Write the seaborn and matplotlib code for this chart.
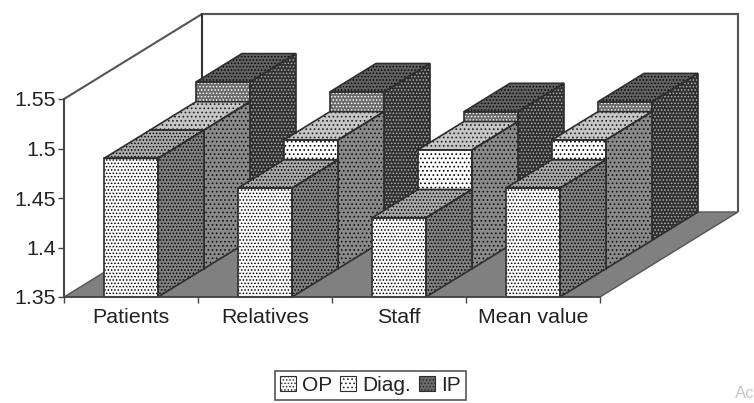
import pandas as pd
import matplotlib
matplotlib.use('Agg')
import matplotlib.pyplot as plt
from matplotlib.patches import Patch, Polygon, Rectangle
import seaborn as sns

categories = ['Patients', 'Relatives', 'Staff', 'Mean value']
op = [1.49, 1.46, 1.43, 1.46]
diag = [1.49, 1.48, 1.47, 1.48]
ip = [1.51, 1.50, 1.48, 1.49]
series_names = ['OP', 'Diag.', 'IP']
y_ticks = [1.35, 1.4, 1.45, 1.5, 1.55]
y_labels = ['1.35', '1.4', '1.45', '1.5', '1.55']

BASE = 1.35
W, H = 754, 403
# one depth slot per series, as a shift in data units (138 px right, 85 px up in total)
STEP_X = (138 / 134) / 3
STEP_Y = (85 / 990) / 3
LINE = '#2e2e2e'

# front, top, side: (face colour, hatch colour, hatch)
styles = {
    'OP': [('#ffffff', '#000000', '.....'), ('#aaaaaa', '#000000', '.....'), ('#808080', '#000000', '.....')],
    'Diag.': [('#ffffff', '#000000', '....'), ('#c6c6c6', '#222222', '....'), ('#8a8a8a', '#111111', '....')],
    'IP': [('#6a6a6a', '#ffffff', '.....'), ('#626262', '#000000', '.....'), ('#303030', '#b0b0b0', '.....')],
}

df = pd.DataFrame({
    'category': categories * 3,
    'value': op + diag + ip,
    'series': [s for s in series_names for _ in categories],
})

sns.set_theme(style='white')
plt.rcParams['font.family'] = ['Liberation Sans', 'DejaVu Sans']
plt.rcParams['hatch.linewidth'] = 0.7

fig = plt.figure(figsize=(W / 100, H / 100), dpi=100)
ax = fig.add_axes([64 / W, 1 - 297 / H, 536 / W, 198 / H])

sns.barplot(data=df, x='category', y='value', hue='series', hue_order=series_names,
            dodge=False, width=54 / 134, legend=False, ax=ax)
ax.set_xlim(-0.5, 3.5)
ax.set_ylim(BASE, 1.55)

# walls and floor
dx3, dy3 = STEP_X * 3, STEP_Y * 3
floor = [(-0.5, BASE), (3.5, BASE), (3.5 + dx3, BASE + dy3), (-0.5 + dx3, BASE + dy3)]
ax.add_patch(Polygon(floor, fc='#808080', ec='#555555', lw=1, clip_on=False, zorder=1))
wall = [(-0.5, BASE), (-0.5, 1.55), (-0.5 + dx3, 1.55 + dy3), (3.5 + dx3, 1.55 + dy3), (3.5 + dx3, BASE + dy3)]
ax.add_patch(Polygon(wall, closed=False, fill=False, ec='#555555', lw=1.5, clip_on=False, zorder=1))
ax.plot([-0.5 + dx3] * 2, [BASE + dy3, 1.55 + dy3], color='#333333', lw=1.5, clip_on=False, zorder=1)


def face(points, style, z):
    fc, hc, hatch = style
    ax.add_patch(Polygon(points, fc=fc, ec=hc, hatch=hatch, lw=0, clip_on=False, zorder=z))
    ax.add_patch(Polygon(points, fill=False, ec=LINE, lw=1.2, clip_on=False, zorder=z + 0.1))


# back slot first so the nearer bars cover it
for depth, (name, bars) in enumerate(zip(series_names, ax.containers)):
    z = 10 - 2 * depth
    for bar in bars:
        x0 = bar.get_x() + depth * STEP_X
        x1 = x0 + bar.get_width()
        y0 = BASE + depth * STEP_Y
        y1 = bar.get_height() + depth * STEP_Y
        fc, hc, hatch = styles[name][0]
        bar.set(x=x0, y=y0, height=y1 - y0, facecolor=fc, edgecolor=hc, hatch=hatch,
                linewidth=0, clip_on=False, zorder=z)
        ax.add_patch(Rectangle((x0, y0), x1 - x0, y1 - y0, fill=False, ec=LINE, lw=1.2,
                               clip_on=False, zorder=z + 0.1))
        face([(x0, y1), (x1, y1), (x1 + STEP_X, y1 + STEP_Y), (x0 + STEP_X, y1 + STEP_Y)],
             styles[name][1], z)
        face([(x1, y0), (x1, y1), (x1 + STEP_X, y1 + STEP_Y), (x1 + STEP_X, y0 + STEP_Y)],
             styles[name][2], z)

ax.set_xlabel('')
ax.set_ylabel('')
ax.set_yticks(y_ticks, y_labels)
ax.set_xticks(range(len(categories)), categories)
ax.set_xticks([-0.5, 0.5, 1.5, 2.5, 3.5], minor=True)
ax.tick_params(axis='x', which='major', length=0, pad=8, labelsize=15.4, labelcolor='#222222')
ax.tick_params(axis='x', which='minor', length=4, width=1, color='#444444', bottom=True)
ax.tick_params(axis='y', length=4, width=1, color='#444444', left=True, pad=2,
               labelsize=15.4, labelcolor='#222222')
sns.despine(ax=ax, top=True, right=True)
for side in ['left', 'bottom']:
    ax.spines[side].set_color('#444444')
    ax.spines[side].set_linewidth(1.2)
    ax.spines[side].set_zorder(20)

handles = [Patch(facecolor=styles[n][0][0], edgecolor=LINE, hatch=styles[n][0][2], linewidth=0.8, label=n)
           for n in series_names]
leg = fig.legend(handles=handles, ncol=3, loc='center', bbox_to_anchor=(370.5 / W, 1 - 385.5 / H),
                 fontsize=15, fancybox=False, framealpha=1, edgecolor='#555555',
                 handlelength=0.75, handleheight=0.75, handletextpad=0.3, columnspacing=0.4,
                 borderpad=0.22, labelcolor='#222222')
leg.get_frame().set_linewidth(1.2)

fig.text(735 / W, 1 - 398 / H, 'Ac', fontsize=12, color='#c8c8c8', ha='left', va='baseline')

fig.savefig('out.png', dpi=100)
